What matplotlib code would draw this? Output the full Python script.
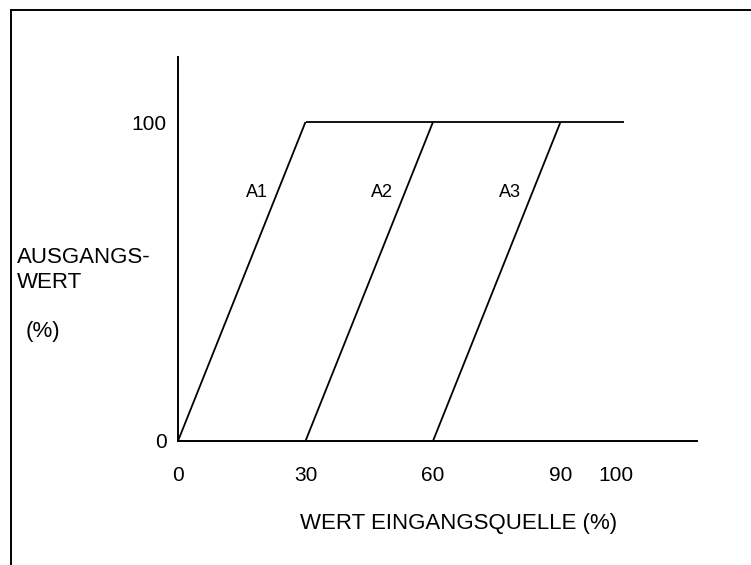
import matplotlib.pyplot as plt
from matplotlib.lines import Line2D

plt.rcParams['font.family'] = ['Liberation Sans', 'DejaVu Sans']

# Kennlinien (Eingang %, Ausgang %)
a1_x = [0, 30]
a1_y = [0, 100]
a2_x = [30, 60]
a2_y = [0, 100]
a3_x = [60, 90]
a3_y = [0, 100]
plateau_x = [30, 105]
plateau_y = [100, 100]

curve_names = ['A1', 'A2', 'A3']
name_pos_x = [18.5, 48, 78]
name_pos_y = [78, 78, 78]

x_ticks = [0, 30, 60, 90, 103]
x_tick_labels = ['0', '30', '60', '90', '100']
y_ticks = [0, 100]
y_tick_labels = ['0', '100']

W, H = 751, 565
fig = plt.figure(figsize=(W / 100, H / 100), dpi=100)

# Achsen so platzieren, dass sie wie im Original liegen
x0, x1 = 178, 697
y0, y1 = 441, 57
ax = fig.add_axes([x0 / W, 1 - y0 / H, (x1 - x0) / W, (y0 - y1) / H])
ax.set_xlim(0, (x1 - x0) / 4.25)
ax.set_ylim(0, (y0 - y1) / 3.19)

for xs, ys in [(a1_x, a1_y), (a2_x, a2_y), (a3_x, a3_y), (plateau_x, plateau_y)]:
    ax.plot(xs, ys, color='black', lw=1.3, solid_capstyle='butt')

for name, nx, ny in zip(curve_names, name_pos_x, name_pos_y):
    ax.text(nx, ny, name, fontsize=13, ha='center', va='center')

for s in ['top', 'right']:
    ax.spines[s].set_visible(False)
for s in ['left', 'bottom']:
    ax.spines[s].set_linewidth(1.4)

ax.set_xticks(x_ticks)
ax.set_xticklabels(x_tick_labels, fontsize=15)
ax.set_yticks(y_ticks)
ax.set_yticklabels(y_tick_labels, fontsize=15)
ax.tick_params(axis='x', length=0, pad=18)
ax.tick_params(axis='y', length=0, pad=8)

# Achsbeschriftungen
fig.text(459 / W, 1 - 523 / H, 'WERT EINGANGSQUELLE (%)', fontsize=16,
         ha='center', va='center')
fig.text(17 / W, 1 - 270 / H, 'AUSGANGS-\nWERT', fontsize=16,
         ha='left', va='center', linespacing=1.3)
fig.text(26 / W, 1 - 331 / H, '(%)', fontsize=16, ha='left', va='center')

# Rahmen (oben und links)
fig.add_artist(Line2D([11 / W, 1], [1 - 10 / H, 1 - 10 / H], color='black', lw=1.4))
fig.add_artist(Line2D([11 / W, 11 / W], [0, 1 - 10 / H], color='black', lw=1.4))

fig.savefig('out.png', dpi=100)
